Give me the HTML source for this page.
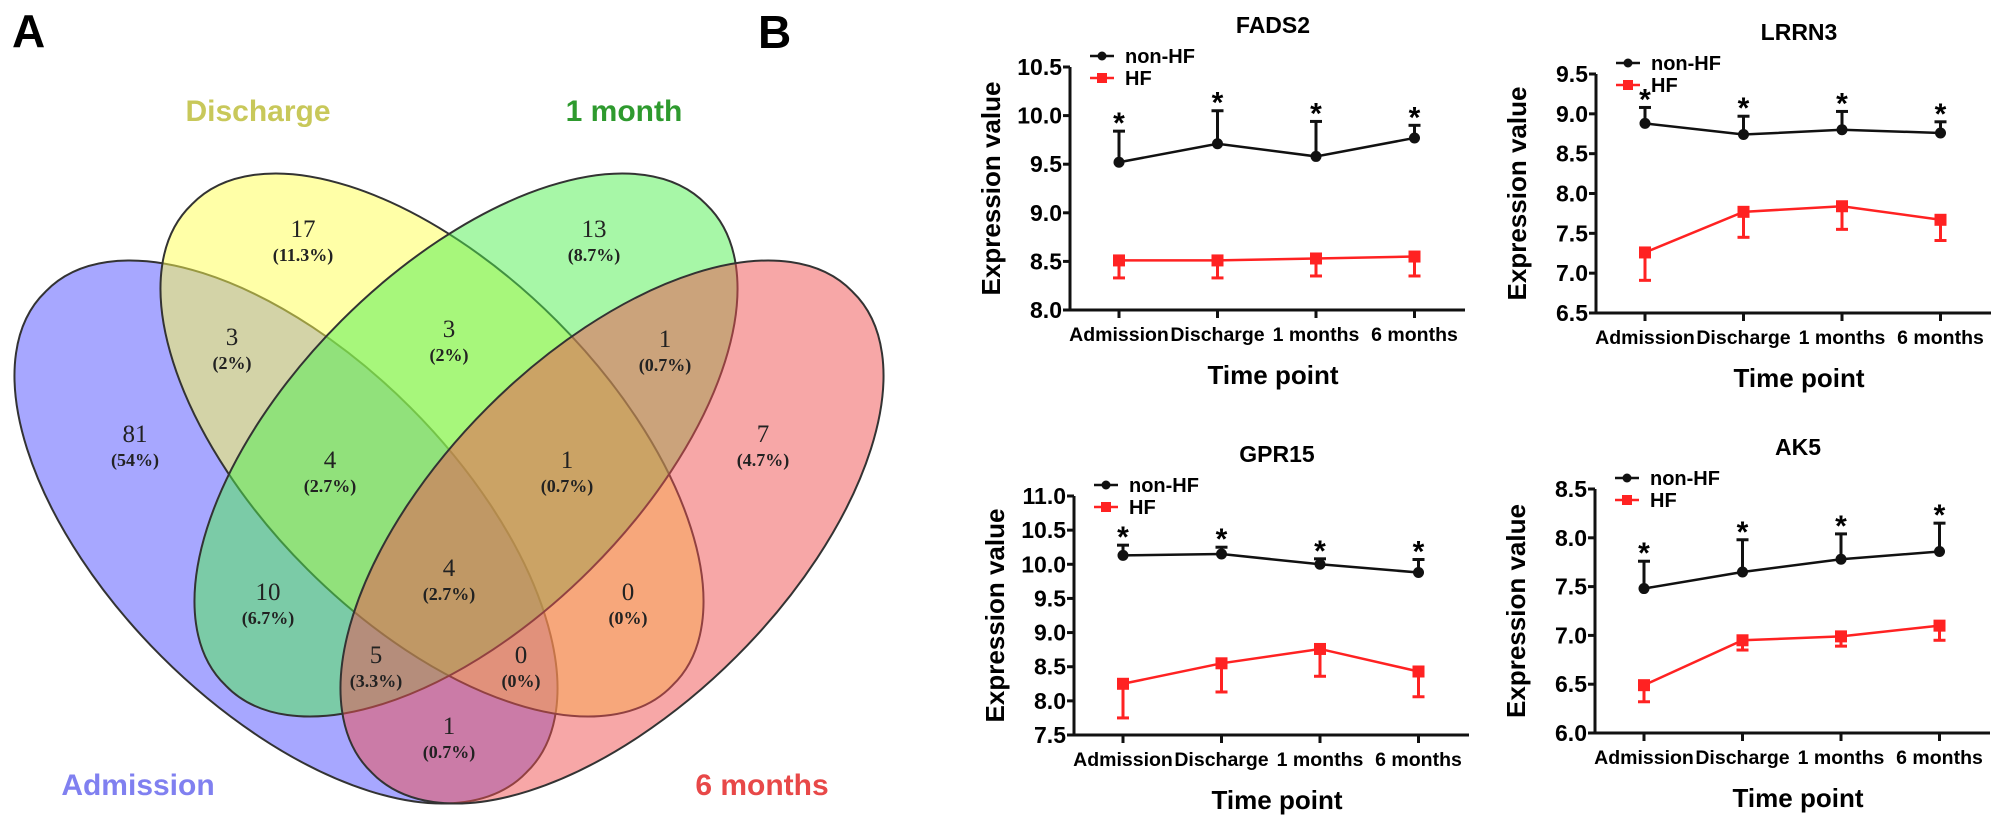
<!DOCTYPE html>
<html><head><meta charset="utf-8"><style>
html,body{margin:0;padding:0;background:#fff;width:2008px;height:824px;overflow:hidden;}
svg{display:block;font-family:"Liberation Sans",Arial,sans-serif;}
.venn text.n{font-family:"Liberation Serif",serif;font-size:25px;fill:#222;text-anchor:middle;}
.venn text.p{font-family:"Liberation Serif",serif;font-size:18px;font-weight:bold;fill:#222;text-anchor:middle;}
</style></head>
<body>
<svg id="fig" width="2008" height="824" viewBox="0 0 2008 824" xmlns="http://www.w3.org/2000/svg">
<text x="12" y="47" font-size="46" font-weight="bold">A</text>
<text x="758" y="48" font-size="46" font-weight="bold">B</text>
<g class="venn">
  <path d="M45.6 291.6 A340 174 45 1 0 526.4 772.4 A340 174 45 1 0 45.6 291.6 Z" fill="#5050ff" fill-opacity="0.5" stroke="#333" stroke-width="2"/>
  <path d="M191.6 204.6 A340 174 45 1 0 672.4 685.4 A340 174 45 1 0 191.6 204.6 Z" fill="#ffff50" fill-opacity="0.5" stroke="#333" stroke-width="2"/>
  <path d="M706.4 204.6 A340 174 -45 1 0 225.6 685.4 A340 174 -45 1 0 706.4 204.6 Z" fill="#50f050" fill-opacity="0.5" stroke="#333" stroke-width="2"/>
  <path d="M852.4 291.6 A340 174 -45 1 0 371.6 772.4 A340 174 -45 1 0 852.4 291.6 Z" fill="#f05050" fill-opacity="0.5" stroke="#333" stroke-width="2"/>
  <text x="258" y="121" font-size="30" font-weight="bold" fill="#c8c85a" text-anchor="middle">Discharge</text>
  <text x="624" y="121" font-size="30" font-weight="bold" fill="#2e9a2e" text-anchor="middle">1 month</text>
  <text x="138" y="795" font-size="30" font-weight="bold" fill="#8080f0" text-anchor="middle">Admission</text>
  <text x="762" y="795" font-size="30" font-weight="bold" fill="#e84848" text-anchor="middle">6 months</text>
  <g id="vennCounts"></g>
</g>
<g id="charts"></g>
</svg>
<script>
// Venn region counts
const vennCounts = ["17","13","3","3","1","81","4","1","7","4","10","0","5","0","1"];
const vennPcts = ["(11.3%)","(8.7%)","(2%)","(2%)","(0.7%)","(54%)","(2.7%)","(0.7%)","(4.7%)","(2.7%)","(6.7%)","(0%)","(3.3%)","(0%)","(0.7%)"];
const vennX = [303,594,232,449,665,135,330,567,763,449,268,628,376,521,449];
const vennY = [229,229,337,329,339,434,460,460,434,568,592,592,655,655,726];

// Line chart data
const timePoints = ["Admission","Discharge","1 months","6 months"];
const fads2NonHF = [9.52,9.71,9.58,9.77];
const fads2NonHFErr = [0.32,0.34,0.36,0.13];
const fads2HF = [8.51,8.51,8.53,8.55];
const fads2HFErr = [0.18,0.18,0.18,0.20];
const fads2Ticks = ["8.0","8.5","9.0","9.5","10.0","10.5"];
const lrrn3NonHF = [8.88,8.74,8.80,8.76];
const lrrn3NonHFErr = [0.20,0.23,0.23,0.14];
const lrrn3HF = [7.26,7.77,7.84,7.67];
const lrrn3HFErr = [0.35,0.32,0.29,0.26];
const lrrn3Ticks = ["6.5","7.0","7.5","8.0","8.5","9.0","9.5"];
const gpr15NonHF = [10.13,10.15,10.00,9.88];
const gpr15NonHFErr = [0.15,0.10,0.08,0.19];
const gpr15HF = [8.25,8.55,8.76,8.43];
const gpr15HFErr = [0.50,0.42,0.40,0.37];
const gpr15Ticks = ["7.5","8.0","8.5","9.0","9.5","10.0","10.5","11.0"];
const ak5NonHF = [7.48,7.65,7.78,7.86];
const ak5NonHFErr = [0.28,0.33,0.26,0.29];
const ak5HF = [6.49,6.95,6.99,7.10];
const ak5HFErr = [0.17,0.10,0.10,0.15];
const ak5Ticks = ["6.0","6.5","7.0","7.5","8.0","8.5"];

const NS="http://www.w3.org/2000/svg";
function mk(tag, attrs, parent){const e=document.createElementNS(NS,tag);for(const k in attrs)e.setAttribute(k,attrs[k]);parent.appendChild(e);return e;}

const vg=document.getElementById('vennCounts');
for(let i=0;i<vennCounts.length;i++){
  const t=mk('text',{x:vennX[i],y:vennY[i]+8,class:'n'},vg);
  
  
  t.textContent=vennCounts[i];
  const p=mk('text',{x:vennX[i],y:vennY[i]+32,class:'p'},vg);
  
  
  p.textContent=vennPcts[i];
}

const panels=[
 {name:'fads2',title:'FADS2',left:1070,top:67,bottom:310,nh:fads2NonHF,nhe:fads2NonHFErr,hf:fads2HF,hfe:fads2HFErr,ticks:fads2Ticks},
 {name:'lrrn3',title:'LRRN3',left:1596,top:74,bottom:313,nh:lrrn3NonHF,nhe:lrrn3NonHFErr,hf:lrrn3HF,hfe:lrrn3HFErr,ticks:lrrn3Ticks},
 {name:'gpr15',title:'GPR15',left:1074,top:496,bottom:735,nh:gpr15NonHF,nhe:gpr15NonHFErr,hf:gpr15HF,hfe:gpr15HFErr,ticks:gpr15Ticks},
 {name:'ak5',title:'AK5',left:1595,top:489,bottom:733,nh:ak5NonHF,nhe:ak5NonHFErr,hf:ak5HF,hfe:ak5HFErr,ticks:ak5Ticks}
];
const charts=document.getElementById('charts');
panels.forEach(P=>{
  const g=mk('g',{},charts);
  
  
  const lo=parseFloat(P.ticks[0]), hi=parseFloat(P.ticks[P.ticks.length-1]);
  const y=v=>P.bottom-(v-lo)/(hi-lo)*(P.bottom-P.top);
  const x=i=>P.left+49+i*98.5;
  const right=P.left+395;
  const tt=mk('text',{x:P.left+203,y:P.top-34,'font-size':23,'font-weight':'bold','text-anchor':'middle'},g);
  
  
  tt.textContent=P.title;
  const ya=mk('line',{x1:P.left,y1:P.top,x2:P.left,y2:P.bottom+1.5,stroke:'#111','stroke-width':3},g);
  
  
  const xa=mk('line',{x1:P.left-1.5,y1:P.bottom,x2:right,y2:P.bottom,stroke:'#111','stroke-width':3},g);
  
  
  P.ticks.forEach(tl=>{
    const v=parseFloat(tl);
    mk('line',{x1:P.left-7,y1:y(v),x2:P.left,y2:y(v),stroke:'#111','stroke-width':3},g);
    const t=mk('text',{x:P.left-8,y:y(v)+8,'font-size':23,'font-weight':'bold','text-anchor':'end'},g);
    
    
    t.textContent=tl;
  });
  timePoints.forEach((c,i)=>{
    mk('line',{x1:x(i),y1:P.bottom,x2:x(i),y2:P.bottom+8,stroke:'#111','stroke-width':3},g);
    const t=mk('text',{x:x(i),y:P.bottom+31,'font-size':19.5,'font-weight':'bold','text-anchor':'middle'},g);
    
    
    t.textContent=c;
  });
  const xt=mk('text',{x:P.left+203,y:P.bottom+74,'font-size':26,'font-weight':'bold','text-anchor':'middle'},g);
  
  
  xt.textContent='Time point';
  const cy=(P.top+P.bottom)/2;
  const yt=mk('text',{x:P.left-70,y:cy,'font-size':26,'font-weight':'bold','text-anchor':'middle',transform:`rotate(-90 ${P.left-70} ${cy})`},g);
  
  
  yt.textContent='Expression value';
  const lg=mk('g',{},g);
  
  
  mk('line',{x1:P.left+20,y1:P.top-11,x2:P.left+44,y2:P.top-11,stroke:'#111','stroke-width':2.5},lg);
  mk('circle',{cx:P.left+32,cy:P.top-11,r:4.5,fill:'#111'},lg);
  const l1=mk('text',{x:P.left+55,y:P.top-4,'font-size':20,'font-weight':'bold'},lg);
  
  
  l1.textContent='non-HF';
  mk('line',{x1:P.left+20,y1:P.top+11,x2:P.left+44,y2:P.top+11,stroke:'#f22','stroke-width':2.5},lg);
  mk('rect',{x:P.left+27,y:P.top+6,width:10,height:10,fill:'#f22'},lg);
  const l2=mk('text',{x:P.left+55,y:P.top+18,'font-size':20,'font-weight':'bold'},lg);
  
  
  l2.textContent='HF';
  const series=[[P.nh,P.nhe,'#111',1,'non-hf'],[P.hf,P.hfe,'#f22',-1,'hf']];
  series.forEach(([vals,errs,col,dir,nm])=>{
    const sg=mk('g',{},g);
    
    
    const pts=vals.map((v,i)=>x(i)+','+y(v)).join(' ');
    const pl=mk('polyline',{points:pts,fill:'none',stroke:col,'stroke-width':2.5},sg);
    
    
    vals.forEach((v,i)=>{
      const ye=y(v+dir*errs[i]);
      mk('line',{x1:x(i),y1:y(v),x2:x(i),y2:ye,stroke:col,'stroke-width':3},sg);
      mk('line',{x1:x(i)-6,y1:ye,x2:x(i)+6,y2:ye,stroke:col,'stroke-width':3},sg);
      let m;
      if(dir>0){m=mk('circle',{cx:x(i),cy:y(v),r:5.5,fill:col},sg);}
      else{m=mk('rect',{x:x(i)-6,y:y(v)-6,width:12,height:12,fill:col},sg);}
      
      
      if(dir>0){
        const s=mk('text',{x:x(i),y:ye+2,'font-size':30,'font-weight':'bold','text-anchor':'middle'},sg);
        
        
        s.textContent='*';
      }
    });
  });
});
</script>
</body></html>
